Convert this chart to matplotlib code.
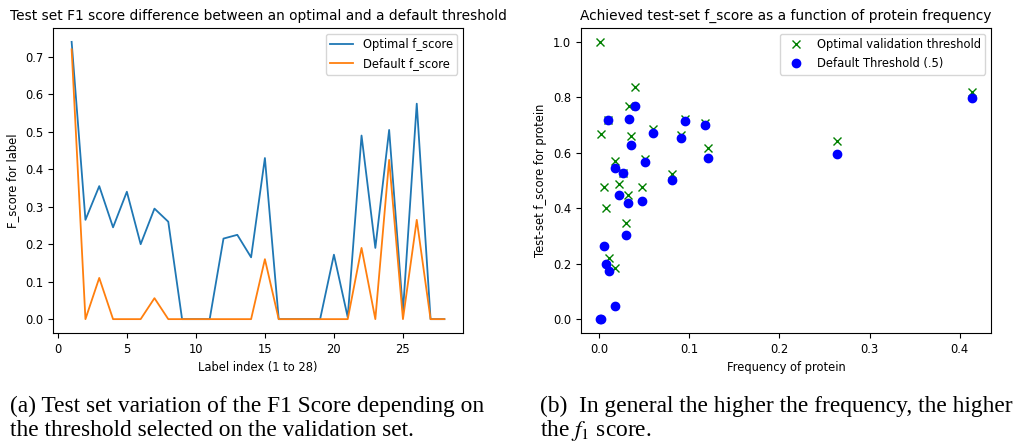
import matplotlib
matplotlib.use("Agg")
import matplotlib.pyplot as plt

# left panel: f-score per label, optimal vs default threshold
label_idx = list(range(1, 29))
optimal_f = [0.74, 0.265, 0.355, 0.245, 0.34, 0.20, 0.295, 0.26, 0.0, 0.0,
             0.0, 0.215, 0.225, 0.165, 0.43, 0.0, 0.0, 0.0, 0.0, 0.172,
             0.005, 0.49, 0.19, 0.505, 0.02, 0.575, 0.0, 0.0]
default_f = [0.72, 0.0, 0.11, 0.0, 0.0, 0.0, 0.056, 0.0, 0.0, 0.0,
             0.0, 0.0, 0.0, 0.0, 0.16, 0.0, 0.0, 0.0, 0.0, 0.0,
             0.0, 0.19, 0.0, 0.425, 0.0, 0.265, 0.0, 0.0]

# right panel: f-score vs protein frequency
freq = [0.0005, 0.002, 0.0056, 0.0074, 0.011, 0.010, 0.018, 0.018, 0.022, 0.026,
        0.0296, 0.032, 0.033, 0.035, 0.040, 0.048, 0.051, 0.060, 0.081, 0.091,
        0.0956, 0.117, 0.121, 0.264, 0.414]
f_optimal = [1.0, 0.667, 0.475, 0.40, 0.22, 0.72, 0.186, 0.571, 0.489, 0.526,
             0.346, 0.447, 0.767, 0.66, 0.836, 0.475, 0.579, 0.687, 0.522, 0.665,
             0.721, 0.706, 0.618, 0.643, 0.820]
f_default = [0.0, 0.0, 0.264, 0.199, 0.175, 0.72, 0.048, 0.544, 0.449, 0.526,
             0.303, 0.42, 0.723, 0.627, 0.767, 0.425, 0.565, 0.67, 0.502, 0.654,
             0.714, 0.699, 0.582, 0.595, 0.797]

caption_a = ["(a) Test set variation of the F1 Score depending on",
             "the threshold selected on the validation set."]
caption_b = ["(b)  In general the higher the frequency, the higher",
             "the $f_1$ score."]

plt.rcParams['mathtext.fontset'] = 'stix'

fig = plt.figure(figsize=(10.19, 4.41), dpi=100)

# left plot
ax1 = fig.add_axes([53/1019, 108/441, 410/1019, 305/441])
ax1.plot(label_idx, optimal_f, color='#1f77b4', lw=1.3, label='Optimal f_score')
ax1.plot(label_idx, default_f, color='#ff7f0e', lw=1.3, label='Default f_score')
ax1.set_title("Test set F1 score difference between an optimal and a default threshold", fontsize=9.9)
ax1.set_xlabel("Label index (1 to 28)", fontsize=8.3)
ax1.set_ylabel("F_score for label", fontsize=8.3)
ax1.tick_params(labelsize=8.3)
ax1.legend(loc='upper right', fontsize=8.3)

# right plot
ax2 = fig.add_axes([581/1019, 108/441, 410/1019, 305/441])
ax2.plot(freq, f_optimal, 'x', color='g', ms=5.5, label='Optimal validation threshold')
ax2.plot(freq, f_default, 'o', color='b', ms=6, label='Default Threshold (.5)')
ax2.set_title("Achieved test-set f_score as a function of protein frequency", fontsize=9.9)
ax2.set_xlabel("Frequency of protein", fontsize=8.3)
ax2.set_ylabel("Test-set f_score for protein", fontsize=8.3)
ax2.tick_params(labelsize=8.3)
ax2.legend(loc='upper right', fontsize=8.3)

# captions, one line at a time
baselines = [412, 436]
for i, line in enumerate(caption_a):
    fig.text(10/1019, 1 - baselines[i]/441, line, family='Liberation Serif',
             fontsize=16.8, va='baseline', ha='left')
for i, line in enumerate(caption_b):
    fig.text(540/1019, 1 - baselines[i]/441, line, family='Liberation Serif',
             fontsize=16.8, va='baseline', ha='left')

fig.savefig("out.png", dpi=100)
